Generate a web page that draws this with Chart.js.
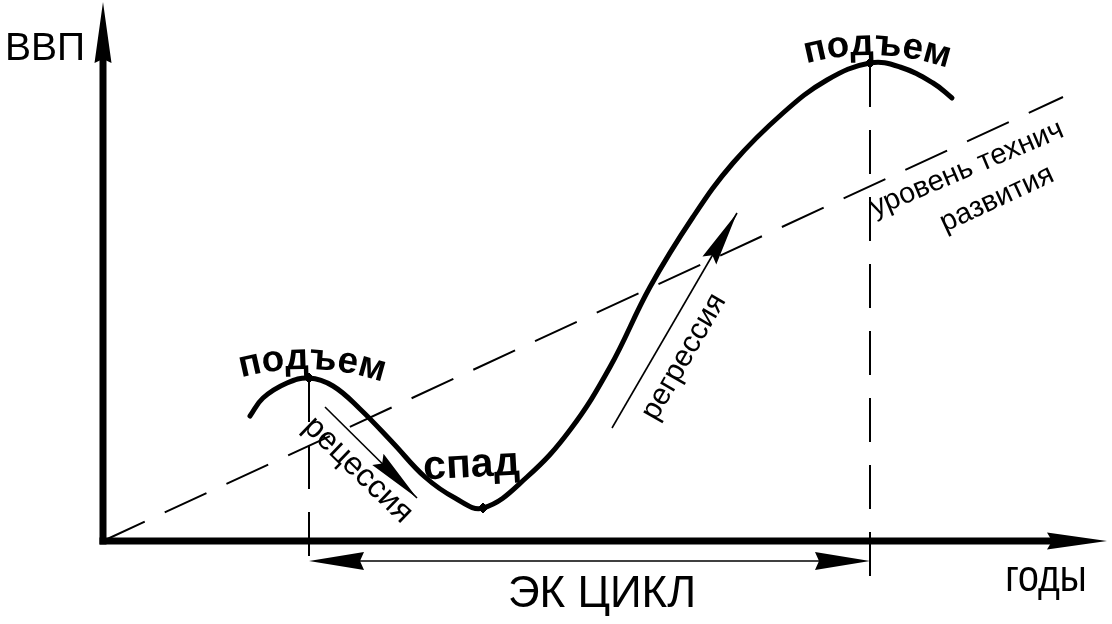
<!DOCTYPE html>
<html lang="ru">
<head>
<meta charset="utf-8">
<title>ЭК цикл</title>
<script src="https://cdn.jsdelivr.net/npm/chart.js@4.4.0/dist/chart.umd.min.js"></script>
<style>
html,body{margin:0;padding:0;background:#fff;}
#wrap{position:relative;width:1112px;height:624px;}
</style>
</head>
<body>
<div id="wrap"><canvas id="chart"></canvas></div>
<script>
// ── DATA ─────────────────────────────────────────────────
// ВВП curve over the years (schematic units, origin at the axes)
const years = [147,160,184,206,230,257,290,322,352,380,424,467,507,547,590,630,680,724,767,797,830,849];
const gdp   = [125,143,158,163,155,132, 98, 64, 43, 33, 64,111,174,254,324,378,428,461,478,474,458,443];

// peaks / trough marked with dots
const peakYears = [206,380,767];
const peakGdp   = [163, 33,478];

// уровень технич. развития (trend)
const trendYears = [0,960];
const trendGdp   = [0,444];

// cycle bounds and the level the drop lines go down to
const cycleFrom = 206, cycleTo = 767, cycleLevel = -20, dropLevel = -37;

// axis ends
const axisYearsEnd = 1004, axisGdpEnd = 539;

// phase arrows: [fromYear, fromGdp, toYear, toGdp]
const recessionArrow = [222,134,314,43];
const regressionArrow = [509,113,634,328];

// ── DRAW HELPERS ─────────────────────────────────────────
function arrowHead(ctx,tx,ty,fx,fy,len,half,notch){
    const d=Math.hypot(tx-fx,ty-fy), ux=(tx-fx)/d, uy=(ty-fy)/d, nx=-uy, ny=ux;
    ctx.beginPath();
    ctx.moveTo(tx,ty);
    ctx.lineTo(tx-ux*len+nx*half, ty-uy*len+ny*half);
    ctx.lineTo(tx-ux*(len-notch), ty-uy*(len-notch));
    ctx.lineTo(tx-ux*len-nx*half, ty-uy*len-ny*half);
    ctx.closePath();
    ctx.fill();
}
function text(ctx,str,x,y,font,rot,align,base,sx){
    ctx.save();
    ctx.font=font; ctx.textAlign=align||'center'; ctx.textBaseline=base||'middle';
    ctx.translate(x,y); ctx.rotate((rot||0)*Math.PI/180); ctx.scale(sx||1,1);
    ctx.fillText(str,0,0);
    ctx.restore();
}
function arcText(ctx,str,cx,cy,R,font,rot){
    ctx.save();
    ctx.font=font; ctx.textAlign='center'; ctx.textBaseline='alphabetic';
    const ch=[...str], w=ch.map(c=>ctx.measureText(c).width);
    let s=-w.reduce((a,b)=>a+b,0)/2;
    ch.forEach((c,i)=>{
        const a=(s+w[i]/2)/R+rot;
        ctx.save();
        ctx.translate(cx+R*Math.sin(a), cy+R-R*Math.cos(a));
        ctx.rotate(a);
        ctx.fillText(c,0,0);
        ctx.restore();
        s+=w[i];
    });
    ctx.restore();
}

// ── SCHEME PLUGIN (axes, arrows, labels) ─────────────────
const schemePlugin = {
    id:'scheme',
    afterDatasetsDraw(chart){
        const ctx=chart.ctx, X=v=>chart.scales.x.getPixelForValue(v), Y=v=>chart.scales.y.getPixelForValue(v);
        const F='"Liberation Sans", Arial, sans-serif';
        ctx.save();
        ctx.fillStyle='#000'; ctx.strokeStyle='#000';

        // axes
        const ox=X(0), oy=Y(0);
        ctx.fillRect(ox-3.5, Y(axisGdpEnd)+50, 7, oy-Y(axisGdpEnd)-50+3.5);
        arrowHead(ctx, ox, Y(axisGdpEnd), ox, oy, 61, 8.5, 4);
        ctx.fillRect(ox-3.5, oy-3.5, X(axisYearsEnd)-ox-50, 7);
        arrowHead(ctx, X(axisYearsEnd), oy, ox, oy, 60, 8.5, 5);

        // cycle double arrow
        ctx.lineWidth=1.6;
        ctx.beginPath(); ctx.moveTo(X(cycleFrom)+20,Y(cycleLevel)); ctx.lineTo(X(cycleTo)-20,Y(cycleLevel)); ctx.stroke();
        arrowHead(ctx, X(cycleFrom), Y(cycleLevel), X(cycleTo), Y(cycleLevel), 55, 9, 4);
        arrowHead(ctx, X(cycleTo), Y(cycleLevel), X(cycleFrom), Y(cycleLevel), 55, 9, 4);

        // phase arrows
        [recessionArrow,regressionArrow].forEach(a=>{
            const fx=X(a[0]), fy=Y(a[1]), tx=X(a[2]), ty=Y(a[3]);
            ctx.beginPath(); ctx.moveTo(fx,fy); ctx.lineTo(tx,ty); ctx.stroke();
            arrowHead(ctx, tx, ty, fx, fy, 55, 8, 6);
        });

        // labels
        text(ctx,'ВВП', X(-98), Y(481), '39px '+F, 0, 'left', 'alphabetic');
        text(ctx,'годы', X(943), Y(-50), '44px '+F, 0, 'center', 'alphabetic', 0.85);
        text(ctx,'ЭК ЦИКЛ', X(499), Y(-66), '44px '+F, 0, 'center', 'alphabetic');
        arcText(ctx,'подъем', X(202), Y(172), 240, 'bold 37px '+F, 0.03);
        arcText(ctx,'подъем', X(767), Y(486), 240, 'bold 37px '+F, 0.03);
        text(ctx,'спад', X(369), Y(64), 'bold 41px '+F, -3, 'center', 'alphabetic');
        text(ctx,'рецессия', X(255), Y(71), '32px '+F, 44);
        text(ctx,'регрессия', X(581), Y(184), '30px '+F, -60);
        text(ctx,'уровень технич', X(864), Y(372), '29px '+F, -23);
        text(ctx,'развития', X(894), Y(342), '29px '+F, -25);
        ctx.restore();
    }
};

// ── CHART ────────────────────────────────────────────────
const pts=(xs,ys)=>xs.map((x,i)=>({x,y:ys[i]}));
const dropLine=i=>({data:pts([peakYears[i],peakYears[i]],[peakGdp[i],dropLevel]),borderColor:'#000',borderWidth:2,borderDash:[44,23],pointRadius:0});

new Chart(document.getElementById('chart'),{
    type:'line',
    data:{datasets:[
        {data:pts(years,gdp),borderColor:'#000',borderWidth:5,tension:0.4,pointRadius:0,borderCapStyle:'round',borderJoinStyle:'round'},
        {data:pts(peakYears,peakGdp),showLine:false,pointStyle:'rectRot',pointRadius:5,backgroundColor:'#000',borderColor:'#000'},
        {data:pts(trendYears,trendGdp),borderColor:'#000',borderWidth:2,borderDash:[46,22],pointRadius:0},
        dropLine(0),
        dropLine(2)
    ]},
    options:{
        responsive:true,maintainAspectRatio:false,animation:false,events:[],
        layout:{padding:0,autoPadding:false},
        plugins:{legend:{display:false},tooltip:{enabled:false}},
        scales:{
            x:{type:'linear',display:false,min:-103,max:1009},
            y:{type:'linear',display:false,min:-83,max:541}
        }
    },
    plugins:[schemePlugin]
});
</script>
</body>
</html>
